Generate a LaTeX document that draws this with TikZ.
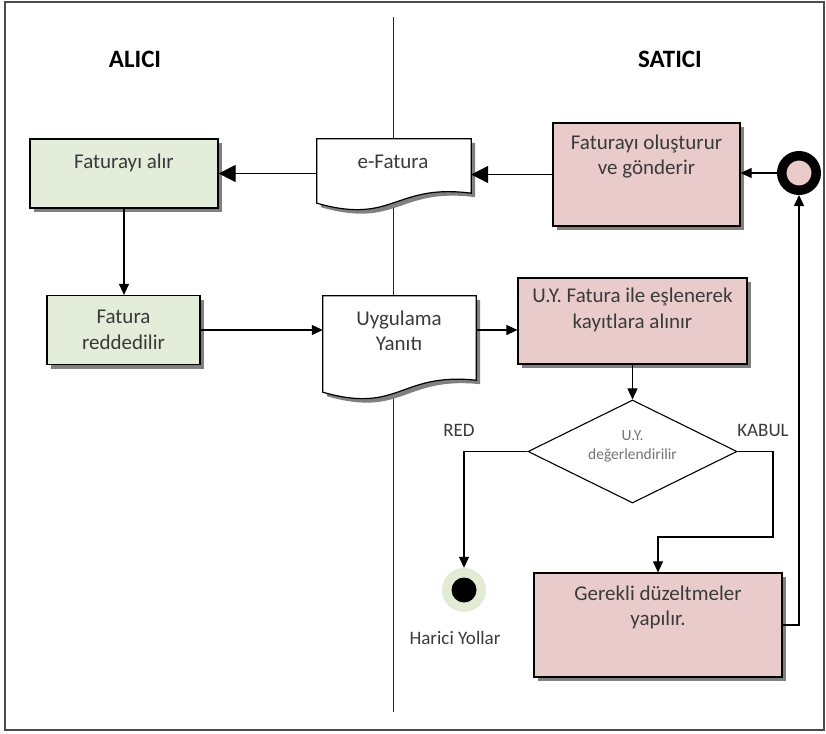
\documentclass[tikz,border=0pt]{standalone}
\usepackage{fontspec}
\setmainfont{Carlito}
\usetikzlibrary{shapes.geometric}
\usetikzlibrary{shadows}
\usetikzlibrary{arrows.meta}
\definecolor{alicigreen}{HTML}{E4ECDA}
\definecolor{saticipink}{HTML}{EACBCC}
\definecolor{bittigreen}{HTML}{E2EBD6}
\definecolor{yazigray}{HTML}{3A3A3A}
\newcommand{\belgecizgi}[2]{%
  \draw[belge] (#1.north west) -- (#1.north east) -- ([yshift=#2pt]#1.south east)
    .. controls ([yshift=20pt]#1.south) and ([yshift=-22pt]#1.south) .. (#1.south west) -- cycle;}

\begin{document}
\begin{tikzpicture}[x=1pt, y=-1pt,
    golge/.style = {drop shadow={shadow xshift=4pt, shadow yshift=-4pt, fill=black!50, opacity=1}},
    kutu/.style = {draw, line width=1.2pt, golge, inner sep=0pt},
    yesil/.style = {kutu, fill=alicigreen},
    pembe/.style = {kutu, fill=saticipink},
    yazi/.style = {text=yazigray, align=center, font=\fontsize{21}{25.5}\selectfont},
    belge/.style = {draw, line width=1.2pt, fill=white, golge},
    etiket/.style = {text=yazigray, font=\fontsize{19}{22}\selectfont},
    baslik/.style = {font=\bfseries\fontsize{25}{30}\selectfont},
    ok/.style = {line width=1.1pt, -{Triangle[length=11pt, width=10pt]}},
    buyukok/.style = {line width=1.1pt, -{Triangle[length=17pt, width=17pt]}}]
    \useasboundingbox (0,0) rectangle (826,733);
    \draw[line width=1.5pt, black!70] (5,2) rectangle (824,730);
    \draw[line width=1pt, black!85] (393.5,17) -- (393.5,712);

    \node[baslik] (alici) at (135,59) {ALICI};
    \node[baslik] (satici) at (670,59) {SATICI};

    \node[yesil, minimum width=188pt, minimum height=69pt] (alir) at (124,173.5) {};
    \node[yazi] (alir-t) at (124,163) {Faturayı alır};
    \node[yesil, yazi, minimum width=153pt, minimum height=69pt] (red) at (123.5,330) {Fatura\\reddedilir};

    \node[minimum width=154pt, minimum height=64pt, inner sep=0pt] (efat) at (394,171) {};
    \belgecizgi{efat}{10}
    \node[yazi] (efat-t) at (393,162) {e-Fatura};
    \node[minimum width=153pt, minimum height=96pt, inner sep=0pt] (uyg) at (399.5,344) {};
    \belgecizgi{uyg}{12}
    \node[yazi] (uyg-t) at (399,331) {Uygulama\\Yanıtı};

    \node[pembe, minimum width=187pt, minimum height=103pt] (olus) at (646.5,174.5) {};
    \node[yazi] (olus-t) at (646.5,156.5) {Faturayı oluşturur\\ve gönderir};
    \node[pembe, minimum width=229pt, minimum height=86pt] (esle) at (632.5,321) {};
    \node[yazi] (esle-t) at (632.5,310) {U.Y. Fatura ile eşlenerek\\kayıtlara alınır};
    \node[pembe, minimum width=248pt, minimum height=104pt] (gerek) at (658,625) {};
    \node[yazi] (gerek-t) at (658,607.5) {Gerekli düzeltmeler\\yapılır.};

    \node[draw, diamond, line width=1.1pt, minimum width=209pt, minimum height=103pt, inner sep=0pt] (karar) at (632.5,451.5) {};
    \node[text=black!55, align=center, font=\fontsize{15.5}{18.5}\selectfont] (karar-t) at (632.5,446.5) {U.Y.\\değerlendirilir};

    \node[circle, draw, line width=9.5pt, fill=saticipink, minimum size=34.5pt, inner sep=0pt] (basla) at (799,173) {};
    \node[circle, fill=bittigreen, minimum size=44pt, inner sep=0pt] (bitir) at (464,590) {};
    \fill (bitir) circle[radius=12.5];

    \node[etiket] (red-l) at (459,430) {RED};
    \node[etiket] (kabul-l) at (763,430) {KABUL};
    \node[etiket] (harici) at (455,638) {Harici Yollar};

    \draw[ok] (basla.west) -- (basla.west -| olus.east);
    \draw[buyukok] (olus.west) -- (olus.west -| efat.east);
    \draw[buyukok] (alir.east -| efat.west) -- (alir.east);
    \draw[ok] (alir.south) -- (alir.south |- red.north);
    \draw[ok] (red.east) -- (red.east -| uyg.west);
    \draw[ok] (uyg.east |- red.east) -- (esle.west |- red.east);
    \draw[ok] (esle.south -| karar.north) -- (karar.north);
    \draw[ok] (karar.west) -| (bitir.north);
    \coordinate (kabul) at (773,537);
    \draw[ok] (karar.east) -| (kabul) -| (gerek.north);
    \draw[ok] (gerek.east) -| (basla.south);
  \end{tikzpicture}
\end{document}
